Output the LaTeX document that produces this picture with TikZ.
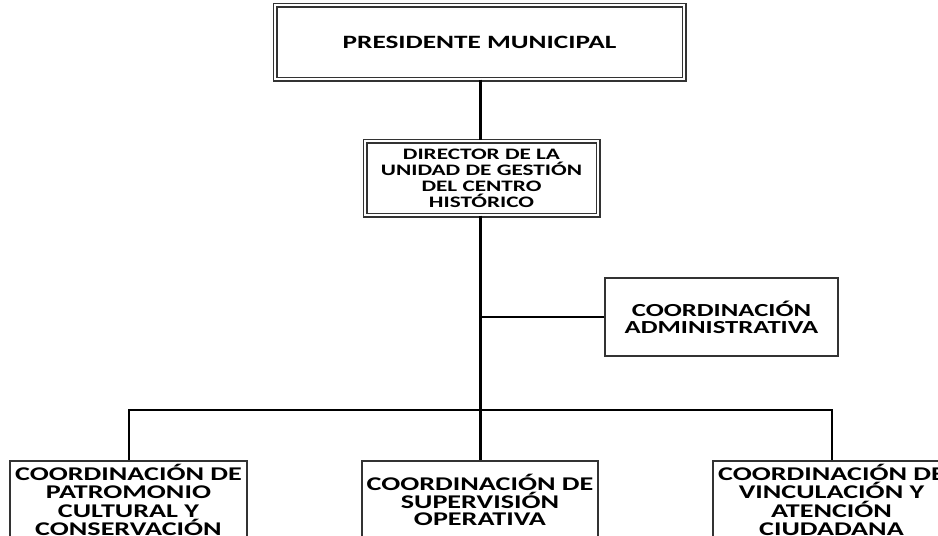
\documentclass[tikz,border=0pt]{standalone}
\usepackage{fontspec}
\newfontfamily\bx{Carlito}[FakeStretch=1.45]
\begin{document}
\begin{tikzpicture}[x=1pt,y=-1pt,
  box/.style={draw=black!80, line width=1.4pt, fill=white, align=center, inner sep=0pt,
    font=\bx\bfseries},
  dbox/.style={box, double, double distance=2.4pt, line width=1.3pt},
  trunk/.style={line width=3pt, black},
  branch/.style={line width=2pt, black}]
\useasboundingbox[fill=white] (0,0) rectangle (938,536);
% nodes
\node[dbox, minimum width=409pt, minimum height=74pt,
  font=\bx\bfseries\fontsize{18.8}{18}\selectfont] (pres) at (479.5,42) {PRESIDENTE MUNICIPAL};
\node[dbox, minimum width=233pt, minimum height=74pt,
  font=\bx\bfseries\fontsize{16}{16}\selectfont] (dir) at (481.5,178)
  {DIRECTOR DE LA\\UNIDAD DE GESTIÓN\\DEL CENTRO\\HISTÓRICO};
\node[box, minimum width=233pt, minimum height=78pt,
  font=\bx\bfseries\fontsize{18.4}{17}\selectfont] (adm) at (721.5,317)
  {COORDINACIÓN\\ADMINISTRATIVA};
\node[box, minimum width=237pt, minimum height=78pt,
  font=\bx\bfseries\fontsize{19.4}{18.3}\selectfont] (pat) at (128.5,500)
  {COORDINACIÓN DE\\PATROMONIO\\CULTURAL Y\\CONSERVACIÓN};
\node[box, minimum width=236pt, minimum height=78pt,
  font=\bx\bfseries\fontsize{19.4}{17.8}\selectfont] (sup) at (480,500)
  {COORDINACIÓN DE\\SUPERVISIÓN\\OPERATIVA};
\node[box, minimum width=237pt, minimum height=78pt,
  font=\bx\bfseries\fontsize{19.4}{18.3}\selectfont] (vin) at (831.5,500)
  {COORDINACIÓN DE\\VINCULACIÓN Y\\ATENCIÓN\\CIUDADANA};
\coordinate (bus) at (480,410);
% connectors
\draw[trunk] (pres.south -| 480,0) -- (dir.north -| 480,0);
\draw[trunk] (dir.south -| 480,0) -- (sup.north);
\draw[branch] (adm.west) -- (adm.west -| sup.north);
\draw[branch] (pat.north) |- (bus) -| (vin.north);
\end{tikzpicture}
\end{document}
